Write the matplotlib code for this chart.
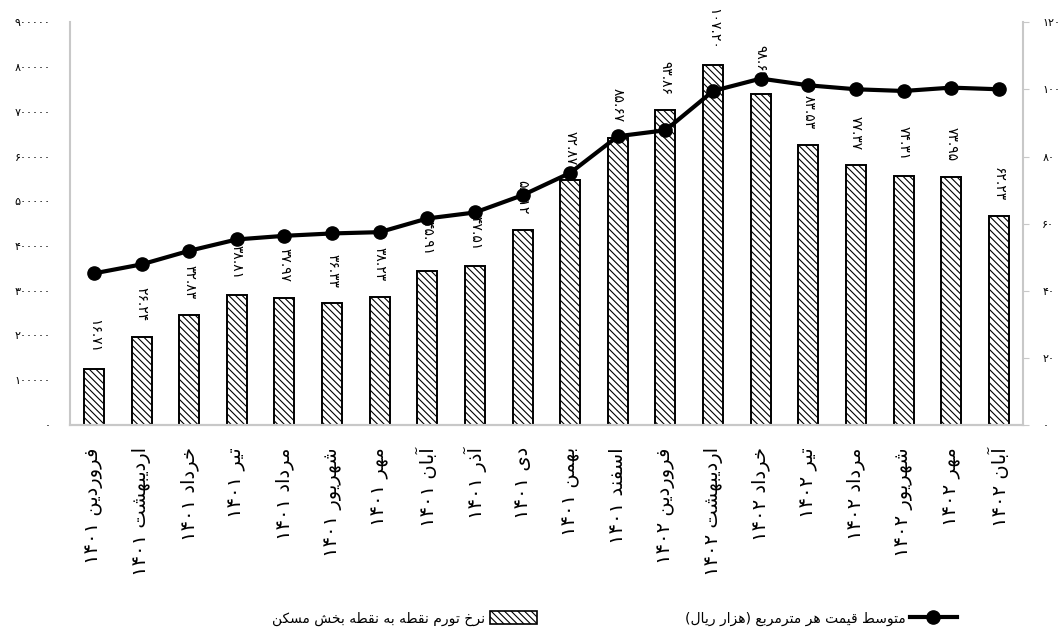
import re
import matplotlib
matplotlib.use('Agg')
import matplotlib.pyplot as plt
from matplotlib import font_manager
from matplotlib.ft2font import FT2Font
from matplotlib.patches import Patch
from matplotlib.lines import Line2D

# ---------------- data ----------------
months = ['فروردین', 'اردیبهشت', 'خرداد', 'تیر', 'مرداد', 'شهریور', 'مهر', 'آبان',
          'آذر', 'دی', 'بهمن', 'اسفند',
          'فروردین', 'اردیبهشت', 'خرداد', 'تیر', 'مرداد', 'شهریور', 'مهر', 'آبان']
years = ['1401'] * 12 + ['1402'] * 8
price = [338800, 358900, 389300, 414700, 422800, 428100, 431000, 461600, 475000, 513600,
         563500, 645400, 658800, 746600, 774300, 759300, 750400, 746600, 754100, 750400]
inflation = [16.71, 26.24, 32.83, 38.81, 37.97, 36.33, 38.23, 45.91, 47.51, 58.12,
             72.87, 85.67, 93.86, 107.20, 98.69, 83.53, 77.37, 74.31, 73.95, 62.23]
left_ticks = [0, 100000, 200000, 300000, 400000, 500000, 600000, 700000, 800000, 900000]
right_ticks = [0, 20, 40, 60, 80, 100, 120]
label_price = 'متوسط قیمت هر مترمربع (هزار ریال)'
label_infl = 'نرخ تورم نقطه به نقطه بخش مسکن'

# ---------------- simple Persian shaping ----------------
FONT = 'DejaVu Sans'
_cmap = FT2Font(font_manager.findfont(FONT)).get_charmap()
def _pick(a, b):
    return a if ord(a) in _cmap else b

FORMS = {
    'ا': ('\uFE8D', '\uFE8E', None, None),
    'آ': ('\uFE81', '\uFE82', None, None),
    'ب': ('\uFE8F', '\uFE90', '\uFE91', '\uFE92'),
    'ت': ('\uFE95', '\uFE96', '\uFE97', '\uFE98'),
    'خ': ('\uFEA5', '\uFEA6', '\uFEA7', '\uFEA8'),
    'د': ('\uFEA9', '\uFEAA', None, None),
    'ذ': ('\uFEAB', '\uFEAC', None, None),
    'ر': ('\uFEAD', '\uFEAE', None, None),
    'ز': ('\uFEAF', '\uFEB0', None, None),
    'س': ('\uFEB1', '\uFEB2', '\uFEB3', '\uFEB4'),
    'ش': ('\uFEB5', '\uFEB6', '\uFEB7', '\uFEB8'),
    'ط': ('\uFEC1', '\uFEC2', '\uFEC3', '\uFEC4'),
    'ع': ('\uFEC9', '\uFECA', '\uFECB', '\uFECC'),
    'ف': ('\uFED1', '\uFED2', '\uFED3', '\uFED4'),
    'ق': ('\uFED5', '\uFED6', '\uFED7', '\uFED8'),
    'ک': (_pick('\uFB8E', '\uFED9'), _pick('\uFB8F', '\uFEDA'),
          _pick('\uFB90', '\uFEDB'), _pick('\uFB91', '\uFEDC')),
    'ل': ('\uFEDD', '\uFEDE', '\uFEDF', '\uFEE0'),
    'م': ('\uFEE1', '\uFEE2', '\uFEE3', '\uFEE4'),
    'ن': ('\uFEE5', '\uFEE6', '\uFEE7', '\uFEE8'),
    'ه': ('\uFEE9', '\uFEEA', '\uFEEB', '\uFEEC'),
    'و': ('\uFEED', '\uFEEE', None, None),
    'ی': (_pick('\uFBFC', '\uFEEF'), _pick('\uFBFD', '\uFEF0'),
          _pick('\uFBFE', '\uFEF3'), _pick('\uFBFF', '\uFEF4')),
}
FORMS['ي'] = FORMS['ی']
FORMS['ك'] = FORMS['ک']

def shape_word(w):
    out = []
    for i, c in enumerate(w):
        f = FORMS.get(c)
        if f is None:
            out.append(c)
            continue
        prev = w[i - 1] if i > 0 else None
        nxt = w[i + 1] if i < len(w) - 1 else None
        jp = prev in FORMS and FORMS[prev][2] is not None
        jn = nxt in FORMS and f[2] is not None
        out.append(f[3] if jp and jn else f[1] if jp else f[2] if jn else f[0])
    return ''.join(out)

MIRROR = {'(': ')', ')': '('}
def rtl(s):
    toks = re.findall(r'[0-9۰-۹][0-9۰-۹.]*|[\u0621-\u06EF]+|\s+|.', s)
    vis = []
    for t in reversed(toks):
        if re.match(r'[\u0621-\u06EF]', t):
            vis.append(shape_word(t)[::-1])
        else:
            vis.append(MIRROR.get(t, t))
    return ''.join(vis)

FA = str.maketrans('0123456789', '۰۱۲۳۴۵۶۷۸۹')
def fa(s):
    return str(s).translate(FA)

# ---------------- figure ----------------
plt.rcParams['font.family'] = [FONT]
plt.rcParams['hatch.linewidth'] = 0.8
fig = plt.figure(figsize=(10.62, 6.39), dpi=100)
ax = fig.add_axes([0.066, 0.335, 0.897, 0.63])
ax2 = ax.twinx()
ax.set_zorder(ax2.get_zorder() + 1)
ax.patch.set_visible(False)

x = list(range(len(months)))
grey = '#c8c8c8'

bars = ax2.bar(x, inflation, width=0.42, facecolor='white', edgecolor='black',
               linewidth=1.4, hatch='\\' * 5)
for xi, v in zip(x, inflation):
    ax2.annotate(fa(f'{v:.2f}'), (xi, v), xytext=(0, 11), textcoords='offset points',
                 rotation=-90, ha='center', va='bottom', fontsize=10)

ax.plot(x, price, color='black', lw=3, marker='o', markersize=9.5, zorder=5)

ax.set_xlim(-0.5, len(months) - 0.5)
ax.set_ylim(0, 900000)
ax2.set_ylim(0, 120)
ax.set_yticks(left_ticks)
ax.set_yticklabels([fa(t) for t in left_ticks], fontsize=8)
ax2.set_yticks(right_ticks)
ax2.set_yticklabels([fa(t) for t in right_ticks], fontsize=8)
ax.tick_params(axis='y', length=0, pad=14)
ax2.tick_params(axis='y', length=4, direction='out', color=grey, pad=10)

ax.set_xticks(x)
ax.set_xticklabels([rtl(f'{m} {fa(y)}') for m, y in zip(months, years)],
                   rotation=90, va='top', ha='center', fontsize=14)
ax.tick_params(axis='x', length=0, pad=16)

for a in (ax, ax2):
    a.spines['top'].set_visible(False)
    for s in ('left', 'right', 'bottom'):
        a.spines[s].set_color(grey)
        a.spines[s].set_linewidth(1.5)
ax.spines['right'].set_visible(False)
ax2.spines['left'].set_visible(False)

h_bar = Patch(facecolor='white', edgecolor='black', hatch='\\' * 5, linewidth=1.2)
h_line = Line2D([], [], color='black', lw=3, marker='o', markersize=9.5)
common = dict(markerfirst=False, frameon=False, loc='center right', fontsize=10,
              handlelength=3.4, handleheight=1.0, handletextpad=0.3,
              borderpad=0, borderaxespad=0)
fig.legend([h_bar], [rtl(label_infl)], bbox_to_anchor=(537 / 1062, 0.032), **common)
fig.legend([h_line], [rtl(label_price)], bbox_to_anchor=(957 / 1062, 0.032), **common)

fig.savefig('out.png', dpi=100)
